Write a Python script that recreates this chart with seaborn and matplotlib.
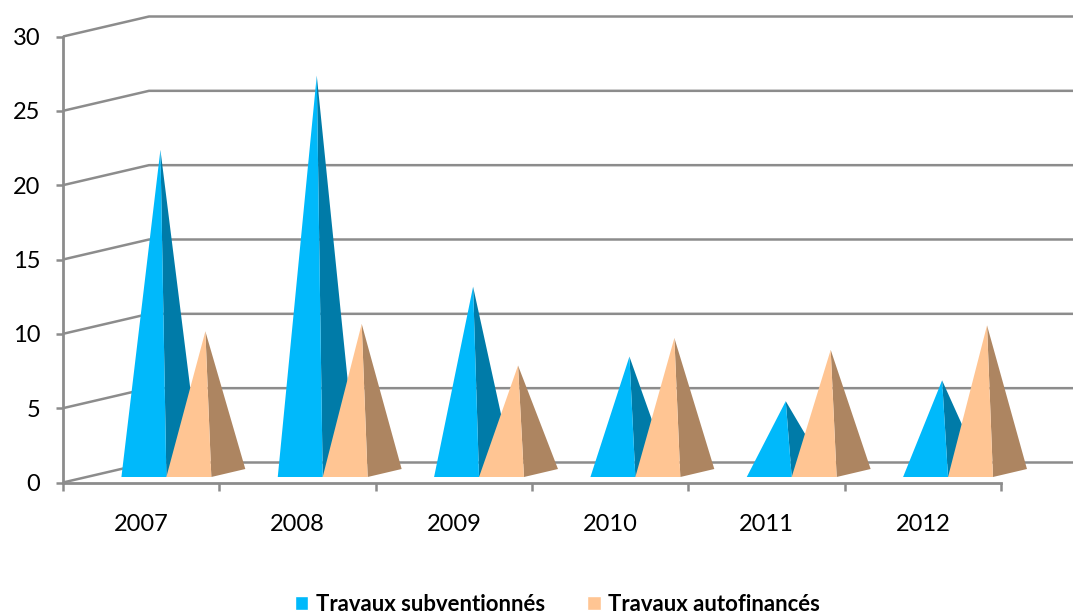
import matplotlib
matplotlib.use("Agg")
import matplotlib.pyplot as plt
import pandas as pd
import seaborn as sns

years = ["2007", "2008", "2009", "2010", "2011", "2012"]
subventionnes = [22.0, 27.0, 12.8, 8.1, 5.1, 6.5]
autofinances = [9.8, 10.3, 7.5, 9.35, 8.55, 10.2]
series_names = ["Travaux subventionnés", "Travaux autofinancés"]
y_ticks = [0, 5, 10, 15, 20, 25, 30]

GREY = "#8c8c8c"
FRONT = {series_names[0]: "#00b9fb", series_names[1]: "#ffc593"}
SIDE = {series_names[0]: "#007ba8", series_names[1]: "#ad8561"}

sns.set_theme(style="white")
plt.rcParams["font.family"] = ["Lato", "DejaVu Sans"]

df = pd.DataFrame({
    "annee": years * 2,
    "serie": [series_names[0]] * 6 + [series_names[1]] * 6,
    "valeur": subventionnes + autofinances,
})

fig = plt.figure(figsize=(10.73, 6.14), dpi=100)
ax = fig.add_axes([63 / 1073, 1 - 482.5 / 614, 938 / 1073, 446 / 614])

sns.barplot(data=df, x="annee", y="valeur", hue="serie", palette=FRONT,
            saturation=1, width=0.575, ax=ax, zorder=1)
ax.set_xlim(-0.5, 5.5)
ax.set_ylim(0, 30)

# pixels -> data units, the 3d look is done by hand
px_x = 6 / 938
px_y = 30 / 446

# back wall
back_dx = 86 * px_x
back_dy = 20 * px_y
for t in y_ticks:
    ax.plot([-0.5, -0.5 + back_dx, 5.5 + back_dx], [t, t + back_dy, t + back_dy],
            color=GREY, lw=1.8, clip_on=False, zorder=1, solid_capstyle="butt")

# turn the hidden bars into pyramids
shift = 25.2 * px_x
lift = 5.5 * px_y
n = len(years)
for i in range(n):
    for name, bars in zip(series_names, ax.containers):
        bar = bars[i]
        left = bar.get_x() + shift
        front = left + bar.get_width()
        right = front + 34 * px_x
        top = left + 39 * px_x
        apex = bar.get_height() + lift
        base_back = lift + 8 * px_y
        ax.fill([front, right, top], [lift, base_back, apex], color=SIDE[name],
                lw=0, zorder=3 + i, clip_on=False)
        ax.fill([left, front, top], [lift, lift, apex], color=FRONT[name],
                lw=0, zorder=3 + i, clip_on=False)
for bars in ax.containers:
    for bar in bars:
        bar.set_visible(False)

for side in ["top", "right"]:
    ax.spines[side].set_visible(False)
for side in ["left", "bottom"]:
    ax.spines[side].set_color(GREY)
    ax.spines[side].set_linewidth(2.0)

ax.set_xlabel("")
ax.set_ylabel("")
ax.set_yticks(y_ticks)
ax.set_xticks([i - 0.5 for i in range(n + 1)], minor=True)
ax.tick_params(axis="x", which="minor", bottom=True, length=6, width=1.8, color=GREY)
ax.tick_params(axis="x", which="major", bottom=False, pad=17, labelsize=17, labelcolor="black")
ax.tick_params(axis="y", left=True, length=5, width=1.8, color=GREY, pad=11.5,
               labelsize=17, labelcolor="black")

sns.move_legend(ax, "center", bbox_to_anchor=(557 / 1073, 1 - 604.5 / 614),
                bbox_transform=fig.transFigure, ncol=2, frameon=False, title=None,
                handlelength=0.63, handleheight=0.63, handletextpad=0.32,
                columnspacing=1.9, labelcolor="black",
                prop={"weight": "bold", "size": 15.9})

fig.savefig("out.png", dpi=100)
